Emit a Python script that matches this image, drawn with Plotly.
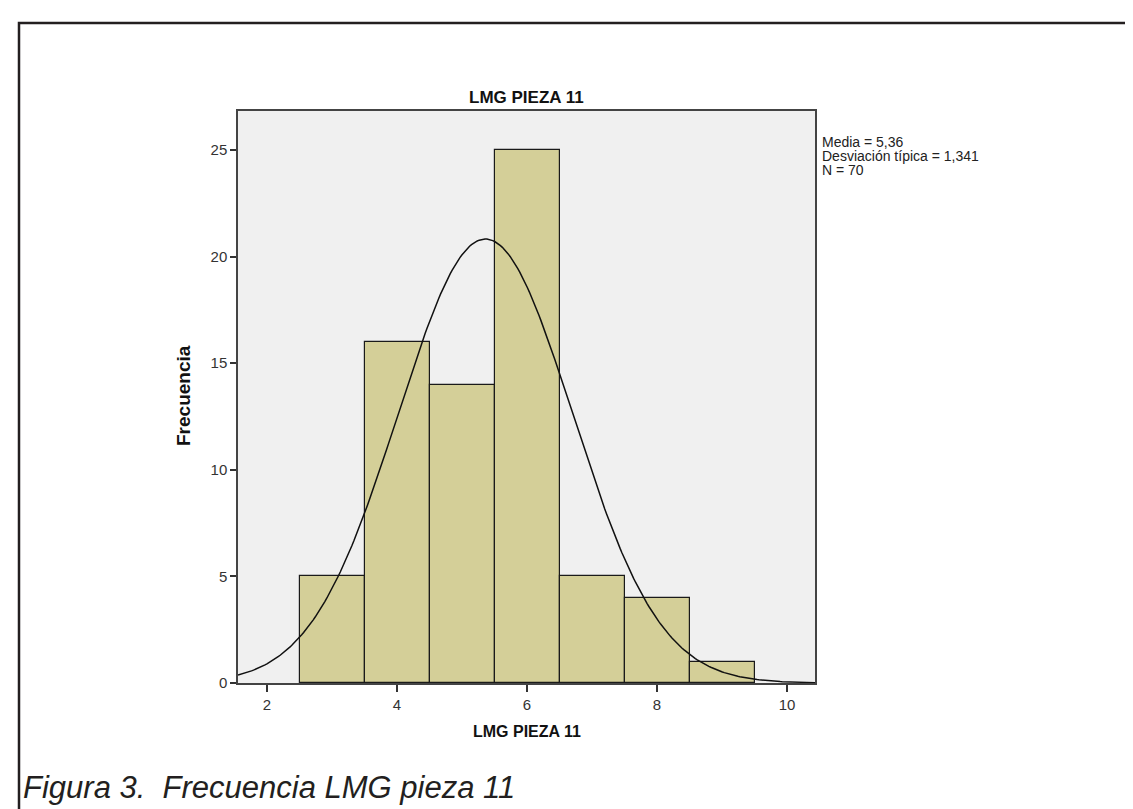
import numpy as np
import plotly.graph_objects as go

# ---- data ----
bin_centers = [3, 4, 5, 6, 7, 8, 9]
frequencies = [5, 16, 14, 25, 5, 4, 1]
bin_width = 1.0
mean_val = 5.36
std_val = 1.341
n_val = 70
x_ticks = [2, 4, 6, 8, 10]
y_ticks = [0, 5, 10, 15, 20, 25]
chart_title = "LMG PIEZA 11"
x_title = "LMG PIEZA 11"
y_title = "Frecuencia"
stats_lines = ["Media = 5,36", "Desviación típica = 1,341", "N = 70"]
caption = "Figura 3.  Frecuencia LMG pieza 11"

W, H = 1133, 809
L, R, T, B = 230, 807, 103, 675  # plot area in px
x_range = [1.554, 10.43]
y_range = [0, 26.83]

def px_x(p):
    return (p - L) / (R - L)

def px_y(p):
    return (B - p) / (B - T)

# normal curve from the chart's stats
xc = np.linspace(x_range[0], x_range[1], 300)
yc = n_val * bin_width / (std_val * np.sqrt(2 * np.pi)) * np.exp(-0.5 * ((xc - mean_val) / std_val) ** 2)

fig = go.Figure()
fig.add_trace(go.Bar(
    x=bin_centers, y=frequencies, width=bin_width,
    marker=dict(color="#d4cf98", line=dict(color="#1a1a1a", width=1.2)),
    hoverinfo="x+y", showlegend=False,
))
fig.add_trace(go.Scatter(
    x=xc, y=yc, mode="lines", line=dict(color="#111111", width=1.5),
    showlegend=False, hoverinfo="skip",
))

axis_font = dict(family="Liberation Sans, Arial, sans-serif", size=15, color="#333333")
fig.update_xaxes(
    range=x_range, tickvals=x_ticks, ticks="outside", ticklen=7, tickwidth=1.5,
    tickcolor="#333333", showline=True, linecolor="#444444", linewidth=1.5, mirror=True,
    showgrid=False, zeroline=False, tickfont=axis_font,
)
fig.update_yaxes(
    range=y_range, tickvals=y_ticks, ticks="outside", ticklen=6, tickwidth=1.5,
    tickcolor="#333333", showline=True, linecolor="#444444", linewidth=1.5, mirror=True,
    showgrid=False, zeroline=False, tickfont=axis_font,
)

annotations = [
    dict(text="<b>" + chart_title + "</b>", x=0.5, y=px_y(89), xref="paper", yref="paper",
         showarrow=False, xanchor="center", yanchor="middle",
         font=dict(family="Liberation Sans, Arial", size=17, color="#111111")),
    dict(text="<b>" + x_title + "</b>", x=0.5, y=px_y(723), xref="paper", yref="paper",
         showarrow=False, xanchor="center", yanchor="middle",
         font=dict(family="Liberation Sans, Arial", size=16, color="#111111")),
    dict(text="<b>" + y_title + "</b>", x=px_x(175), y=px_y(388), xref="paper", yref="paper",
         showarrow=False, xanchor="center", yanchor="middle", textangle=-90,
         font=dict(family="Liberation Sans, Arial", size=19, color="#111111")),
    dict(text=caption, x=px_x(13), y=px_y(779), xref="paper", yref="paper",
         showarrow=False, xanchor="left", yanchor="middle",
         font=dict(family="Liberation Sans, Arial", size=31, color="#231f20", style="italic")),
]
for i, line in enumerate(stats_lines):
    annotations.append(dict(
        text=line, x=px_x(812), y=px_y(134 + 14 * i), xref="paper", yref="paper",
        showarrow=False, xanchor="left", yanchor="middle",
        font=dict(family="Liberation Sans, Arial", size=14, color="#222222"),
    ))

shapes = [
    # outer frame of the figure box
    dict(type="rect", xref="paper", yref="paper",
         x0=px_x(11), x1=px_x(1145), y0=px_y(820), y1=px_y(15),
         line=dict(color="#231f20", width=2.5), fillcolor="rgba(0,0,0,0)", layer="above"),
]

fig.update_layout(
    width=W, height=H,
    margin=dict(l=L, r=W - R, t=T, b=H - B),
    paper_bgcolor="white", plot_bgcolor="#f0f0f0",
    bargap=0, annotations=annotations, shapes=shapes,
    font=dict(family="Liberation Sans, Arial, sans-serif"),
)

fig.write_html("out.html")
